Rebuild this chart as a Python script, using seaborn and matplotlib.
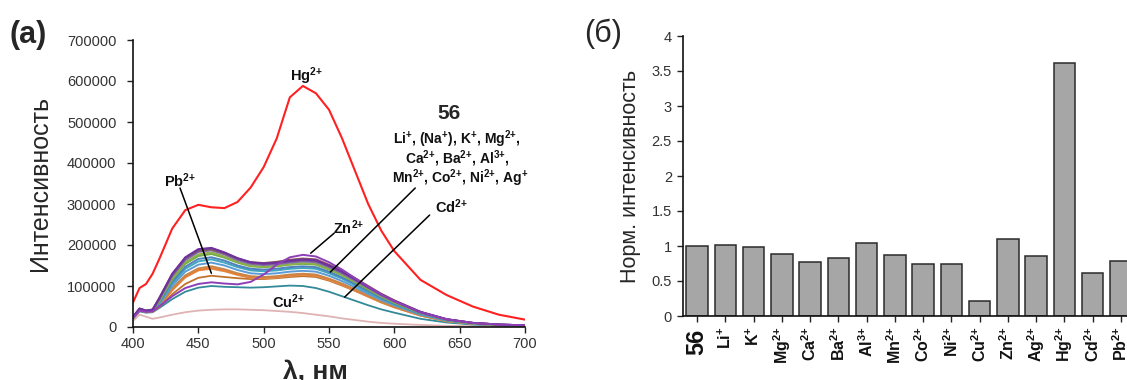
import numpy as np
import pandas as pd
import matplotlib
matplotlib.use("Agg")
import matplotlib.pyplot as plt
import seaborn as sns
from matplotlib.ticker import FuncFormatter, MultipleLocator

sns.set_theme(style="ticks")
plt.rcParams['font.family'] = ['Liberation Sans', 'DejaVu Sans']
plt.rcParams['mathtext.fontset'] = 'custom'
plt.rcParams['mathtext.rm'] = 'Liberation Sans'
plt.rcParams['mathtext.bf'] = 'Liberation Sans:bold'
plt.rcParams['mathtext.it'] = 'Liberation Sans:italic'

# ---------------- data: spectra (intensity, thousands) ----------------
wavelength = [400, 405, 410, 415, 420, 430, 440, 450, 460, 470, 480, 490, 500, 510,
              520, 530, 540, 550, 560, 570, 580, 590, 600, 620, 640, 660, 680, 700]

hg = [60, 95, 105, 130, 165, 240, 285, 298, 292, 290, 305, 340, 390, 460,
      560, 588, 570, 530, 460, 380, 300, 235, 185, 115, 78, 50, 30, 18]
cu = [15, 30, 25, 20, 23, 30, 36, 40, 42, 43, 43, 42, 41, 39,
      37, 34, 30, 26, 21, 17, 13, 10, 8, 5, 3, 2, 1.5, 1]
cd = [20, 38, 35, 36, 46, 68, 86, 96, 100, 98, 97, 96, 97, 99,
      101, 100, 95, 86, 75, 64, 53, 43, 35, 20, 11, 6, 4, 3]
zn = [22, 40, 37, 38, 50, 75, 95, 105, 109, 106, 104, 110, 128, 152,
      170, 176, 172, 158, 140, 119, 98, 79, 63, 36, 19, 10, 6, 4]
pb = [22, 42, 37, 38, 48, 80, 105, 120, 125, 122, 119, 117, 117, 119,
      122, 124, 122, 113, 101, 88, 74, 60, 48, 28, 14, 8, 5, 3]

ni = [21, 41, 36, 38, 50, 90, 121, 138, 142, 136, 127, 120, 119, 121,
      125, 127, 125, 115, 103, 89, 74, 60, 48, 28, 14, 8, 5, 3]
co = [21, 41, 36, 38, 50, 90, 122, 139, 144, 137, 128, 121, 120, 122,
      126, 128, 126, 116, 104, 90, 75, 61, 49, 28, 15, 8, 5, 3]
ca = [21, 41, 37, 39, 52, 94, 126, 143, 148, 141, 131, 124, 122, 124,
      128, 130, 128, 118, 106, 92, 77, 62, 50, 29, 15, 8, 5, 3]
ba = [22, 42, 37, 39, 55, 100, 135, 152, 157, 150, 139, 131, 129, 131,
      135, 137, 135, 125, 112, 97, 81, 66, 53, 30, 16, 8, 5, 3]
ag = [22, 42, 38, 40, 58, 106, 142, 160, 165, 157, 146, 138, 136, 138,
      142, 144, 142, 131, 118, 102, 85, 69, 55, 32, 16, 9, 5, 3]
mn = [23, 43, 38, 40, 60, 110, 147, 166, 170, 162, 150, 142, 140, 142,
      146, 148, 146, 135, 121, 105, 88, 71, 57, 33, 17, 9, 5, 3]
mg = [23, 43, 38, 40, 62, 116, 154, 173, 178, 169, 157, 148, 146, 148,
      152, 154, 152, 140, 126, 109, 91, 74, 59, 34, 18, 9, 5, 3]
na = [23, 43, 38, 40, 64, 120, 158, 177, 182, 172, 159, 150, 147, 149,
      153, 156, 154, 142, 128, 111, 93, 75, 60, 35, 18, 9, 5, 3]
k = [24, 44, 39, 41, 66, 124, 163, 183, 187, 177, 163, 154, 151, 153,
     157, 160, 158, 146, 131, 113, 95, 77, 62, 35, 18, 10, 6, 4]
al = [25, 45, 40, 43, 70, 128, 168, 186, 190, 180, 167, 158, 156, 159,
      164, 167, 165, 152, 137, 119, 100, 81, 65, 37, 19, 10, 6, 4]
free56 = [24, 44, 40, 42, 68, 128, 168, 188, 192, 181, 167, 157, 154, 156,
          160, 163, 161, 149, 134, 116, 97, 79, 63, 36, 19, 10, 6, 4]
li = [25, 45, 40, 42, 70, 130, 170, 190, 193, 182, 168, 158, 155, 157,
      162, 165, 163, 150, 135, 117, 98, 80, 64, 37, 19, 10, 6, 4]

# ---------------- data: bar chart ----------------
bar_names = ["56", "Li", "K", "Mg", "Ca", "Ba", "Al", "Mn", "Co", "Ni", "Cu", "Zn",
             "Ag", "Hg", "Cd", "Pb"]
bar_charges = ["", "+", "+", "2+", "2+", "2+", "3+", "2+", "2+", "2+", "2+", "2+",
               "2+", "2+", "2+", "2+"]
bar_values = [1.0, 1.01, 0.98, 0.89, 0.77, 0.83, 1.04, 0.87, 0.75, 0.74, 0.21, 1.10,
              0.86, 3.61, 0.61, 0.79]


def ion(name, charge):
    ch = charge.replace("+", "{+}")
    return name + "$^{\\mathbf{" + ch + "}}$"


# ---------------- figure ----------------
W, H = 1127, 380
fig = plt.figure(figsize=(W / 100, H / 100), dpi=100)

def px_axes(x0, y_top, x1, y_bot):
    return [x0 / W, (H - y_bot) / H, (x1 - x0) / W, (y_bot - y_top) / H]

ax1 = fig.add_axes(px_axes(133, 40, 525, 327))
ax2 = fig.add_axes(px_axes(683, 36, 1135, 316))

# spectra
bundle = [(ni, '#d9a066'), (co, '#ed7d31'), (ca, '#c8864a'), (ba, '#5b9bd5'),
          (ag, '#3fa7c0'), (mn, '#4f81bd'), (mg, '#70ad47'), (na, '#8fb04a'),
          (k, '#7f6aa6'), (al, '#8c564b'), (free56, '#6e4a8e'), (li, '#7030a0')]
wl = np.array(wavelength)
sns.lineplot(x=wl, y=np.array(cu) * 1000, ax=ax1, color='#dfb3b3', lw=1.3)
sns.lineplot(x=wl, y=np.array(cd) * 1000, ax=ax1, color='#31899a', lw=1.3)
sns.lineplot(x=wl, y=np.array(pb) * 1000, ax=ax1, color='#c0712c', lw=1.3)
for vals, c in bundle:
    sns.lineplot(x=wl, y=np.array(vals) * 1000, ax=ax1, color=c, lw=1.4)
sns.lineplot(x=wl, y=np.array(zn) * 1000, ax=ax1, color='#8e3fb8', lw=1.4)
sns.lineplot(x=wl, y=np.array(hg) * 1000, ax=ax1, color='#ff2020', lw=1.5)

ax1.set_xlim(400, 700)
ax1.set_ylim(0, 700000)
ax1.xaxis.set_major_locator(MultipleLocator(50))
ax1.yaxis.set_major_locator(MultipleLocator(100000))
ax1.yaxis.set_major_formatter(FuncFormatter(lambda v, p: f"{int(v)}"))
ax1.tick_params(labelsize=10.5, length=4, width=1, colors='#222222', labelcolor='#333333')
ax1.tick_params(axis='y', pad=8)
ax1.tick_params(axis='x', pad=3)
for s in ['top', 'right']:
    ax1.spines[s].set_visible(False)
for s in ['left', 'bottom']:
    ax1.spines[s].set_linewidth(1.2)
    ax1.spines[s].set_color('#111111')
ax1.set_xlabel("λ, нм", fontsize=19, fontweight='bold')
ax1.xaxis.set_label_coords((315 - 133) / (525 - 133), -(360 - 327) / (327 - 40),
                           transform=ax1.transAxes)
ax1.xaxis.label.set_va('top')
ax1.set_ylabel("Интенсивность", fontsize=18)
ax1.yaxis.set_label_coords(-(133 - 52) / (525 - 133), 0.5)

bold = dict(fontweight='bold', fontsize=10.5, color='#111111')
blk = dict(fontweight='bold', fontsize=10, color='#111111')
ax1.text(533, 612000, ion("Hg", "2+"), ha='center', va='center', **bold)
ax1.text(642, 521000, "56", ha='center', va='center', fontweight='bold', fontsize=15)
ax1.text(648, 457000, ion("Li", "+") + ", (" + ion("Na", "+") + "), " + ion("K", "+")
         + ", " + ion("Mg", "2+") + ",", ha='center', va='center', **blk)
ax1.text(648, 410000, ion("Ca", "2+") + ", " + ion("Ba", "2+") + ", " + ion("Al", "3+") + ",",
         ha='center', va='center', **blk)
ax1.text(650, 363000, ion("Mn", "2+") + ", " + ion("Co", "2+") + ", " + ion("Ni", "2+")
         + ", " + ion("Ag", "+"), ha='center', va='center', **blk)
ax1.text(644, 293000, ion("Cd", "2+"), ha='center', va='center', **bold)
ax1.text(565, 241000, ion("Zn", "2+"), ha='center', va='center', **bold)
ax1.text(436, 358000, ion("Pb", "2+"), ha='center', va='center', **bold)
ax1.text(519, 61000, ion("Cu", "2+"), ha='center', va='center', **bold)

for (x0, y0), (x1, y1) in [((436, 339000), (460, 131000)),
                           ((554, 229000), (536, 180000)),
                           ((616, 339000), (551, 134000)),
                           ((627, 273000), (562, 73000))]:
    ax1.plot([x0, x1], [y0, y1], color='black', lw=1.1)

# bars
df = pd.DataFrame({"ion": bar_names, "val": bar_values})
sns.barplot(data=df, x="ion", y="val", ax=ax2, color='#a6a6a6', width=0.76,
            edgecolor='#2b2b2b', linewidth=1.1, saturation=1)
ax2.set_xlim(-0.5, 15.5)
ax2.set_ylim(0, 4)
ax2.yaxis.set_major_locator(MultipleLocator(0.5))
ax2.yaxis.set_major_formatter(FuncFormatter(lambda v, p: f"{v:g}"))
ax2.set_xlabel("")
ax2.set_ylabel("Норм. интенсивность", fontsize=15.5)
ax2.yaxis.set_label_coords(-(683 - 641) / (1135 - 683), 0.5)
ax2.tick_params(axis='y', labelsize=10.5, length=4, width=1, colors='#222222',
                labelcolor='#333333', pad=4)
ax2.tick_params(axis='x', length=4, width=1, colors='#222222')
ax2.set_xticks(range(len(bar_names)))
ax2.set_xticklabels([])
lab_y = -(326 - 316) / (316 - 36)
for i, (name, ch) in enumerate(zip(bar_names, bar_charges)):
    if ch == "":
        ax2.text(i, lab_y - 0.01, name, rotation=90, ha='center', va='top', fontsize=17,
                 fontweight='bold', color='#111111', transform=ax2.get_xaxis_transform())
    else:
        ax2.text(i, lab_y, ion(name, ch), rotation=90, ha='center',
                 va='top', fontsize=11.5, fontweight='bold', color='#111111',
                 transform=ax2.get_xaxis_transform())
for s in ['top', 'right']:
    ax2.spines[s].set_visible(False)
for s in ['left', 'bottom']:
    ax2.spines[s].set_linewidth(1.2)
    ax2.spines[s].set_color('#111111')

fig.text(28 / W, 1 - 35 / H, "(a)", fontsize=22, fontweight='bold', ha='center', va='center')
fig.text(603 / W, 1 - 34 / H, "(б)", fontsize=22, ha='center', va='center')

fig.savefig("out.png", dpi=100)
